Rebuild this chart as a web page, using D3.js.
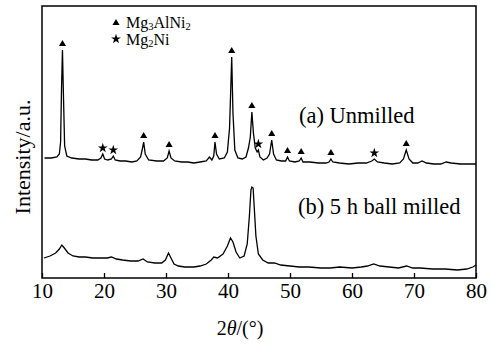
<!DOCTYPE html>
<html>
<head>
<meta charset="utf-8">
<script src="https://cdn.jsdelivr.net/npm/d3@7"></script>
<style>
  body { margin: 0; background: #fff; }
  svg text { font-family: "Liberation Serif", "Times New Roman", serif; fill: #000; }
</style>
</head>
<body>
<div id="chart"></div>
<script>
// XRD patterns: [2theta, intensity a.u.]
const unmilled = [
  [10.4, 120], [11.5, 120], [12.4, 121], [12.8, 124], [13.0, 136], [13.15, 190], [13.3, 228], [13.45, 185],
  [13.65, 132], [14.0, 122], [14.8, 120], [16.0, 119], [17.0, 119], [18.0, 118], [19.0, 118],
  [19.5, 120], [19.8, 124], [20.1, 119], [20.6, 118], [21.2, 119], [21.5, 122], [21.8, 118],
  [22.6, 117], [23.5, 117], [24.5, 116], [25.3, 117], [25.9, 121], [26.15, 128], [26.4, 136],
  [26.65, 124], [27.2, 118], [28.5, 117], [29.6, 117], [30.2, 120], [30.5, 127], [30.8, 120],
  [31.4, 117], [32.5, 116], [33.5, 116], [34.5, 115], [35.5, 116], [36.5, 117], [37.0, 121],
  [37.4, 118], [37.7, 122], [37.9, 136], [38.15, 124], [38.6, 119], [39.4, 120], [39.9, 126],
  [40.25, 150], [40.45, 190], [40.6, 221], [40.8, 165], [41.1, 128], [41.6, 120], [42.3, 119],
  [42.9, 121], [43.3, 130], [43.6, 141], [43.85, 166], [44.1, 145], [44.4, 130], [44.7, 126],
  [44.9, 128], [45.15, 121], [45.7, 118], [46.3, 120], [46.7, 124], [47.05, 138], [47.35, 124],
  [47.8, 118], [48.6, 117], [49.3, 117], [49.6, 121], [49.9, 117], [50.8, 116], [51.5, 117],
  [51.8, 120], [52.1, 116], [53.2, 116], [54.6, 115], [55.8, 115], [56.3, 116], [56.6, 119],
  [56.9, 116], [58.0, 115], [59.5, 114], [61.0, 115], [62.3, 115], [63.2, 117], [63.6, 119],
  [64.1, 116], [65.2, 115], [66.5, 114], [67.7, 115], [68.3, 119], [68.75, 128], [69.2, 119],
  [69.8, 115], [70.6, 115], [71.3, 117], [72.0, 115], [73.2, 114], [74.3, 114], [75.2, 116],
  [76.0, 115], [77.5, 114], [79.0, 114], [80.0, 114]
]

const milled = [
  [10.3, 20], [11.3, 22], [12.2, 25], [12.8, 29], [13.2, 33], [13.6, 30], [14.2, 25], [15.0, 22],
  [16.0, 21], [17.0, 21], [18.2, 20], [19.5, 20], [20.5, 20], [21.2, 21], [22.0, 19], [23.0, 18],
  [24.3, 17], [25.5, 17], [26.3, 19], [27.0, 16], [28.2, 15], [29.3, 15], [29.9, 18], [30.4, 25],
  [30.8, 20], [31.3, 14], [32.0, 12], [33.0, 11], [34.5, 11], [35.5, 12], [36.5, 14], [37.3, 18],
  [37.7, 21], [38.3, 20], [39.2, 24], [39.9, 32], [40.4, 40], [40.8, 36], [41.3, 26], [41.9, 20],
  [42.6, 22], [43.1, 34], [43.45, 62], [43.7, 88], [43.85, 91], [44.05, 90], [44.2, 74],
  [44.5, 42], [44.9, 24], [45.6, 18], [46.5, 15], [47.5, 15], [48.5, 13], [50.0, 12], [51.5, 11],
  [53.0, 11], [55.0, 10], [56.5, 10], [58.0, 11], [60.0, 10], [61.5, 11], [62.5, 12], [63.5, 14],
  [64.5, 12], [66.0, 11], [67.5, 10], [68.8, 12], [69.8, 10], [71.0, 10], [73.0, 9], [75.0, 9],
  [77.0, 8], [78.5, 9], [79.5, 11], [80.0, 13]
]

// phase markers: [2theta, peak top]
const mg3alni2Peaks = [[13.3, 228], [26.4, 136], [30.5, 127], [37.9, 136], [40.6, 221], [43.85, 166],
  [47.05, 138], [49.6, 121], [51.8, 120], [56.6, 119], [68.75, 128]]
const mg2niPeaks = [[19.8, 124], [21.5, 122], [44.9, 128], [63.6, 119]]

const xTicks = [10, 20, 30, 40, 50, 60, 70, 80]

const width = 492,
  height = 345,
  margin = { top: 6, right: 16, bottom: 67, left: 42 }

const svg = d3.select('#chart')
  .append('svg')
  .attr('width', width)
  .attr('height', height)

const x = d3.scaleLinear().domain([10, 80]).range([margin.left, width - margin.right])
const y = d3.scaleLinear().domain([0, 272]).range([height - margin.bottom, margin.top])

const line = d3.line()
  .x(d => x(d[0]))
  .y(d => y(d[1]))

svg.append('path')
  .datum(unmilled)
  .attr('fill', 'none')
  .attr('stroke', '#000')
  .attr('stroke-width', 1.3)
  .attr('d', line)

svg.append('path')
  .datum(milled)
  .attr('fill', 'none')
  .attr('stroke', '#000')
  .attr('stroke-width', 1.3)
  .attr('d', line)

// markers
const tri = d3.symbol().type(d3.symbolTriangle).size(22)
const star = d3.symbol().type(d3.symbolStar).size(30)

svg.selectAll('.tri')
  .data(mg3alni2Peaks)
  .enter()
  .append('path')
  .attr('class', 'tri')
  .attr('d', tri)
  .attr('transform', d => `translate(${x(d[0])},${y(d[1]) - 6})`)

svg.selectAll('.star')
  .data(mg2niPeaks)
  .enter()
  .append('path')
  .attr('class', 'star')
  .attr('d', star)
  .attr('transform', d => `translate(${x(d[0])},${y(d[1]) - 6})`)

// frame
svg.append('rect')
  .attr('x', margin.left)
  .attr('y', margin.top)
  .attr('width', width - margin.left - margin.right)
  .attr('height', height - margin.top - margin.bottom)
  .attr('fill', 'none')
  .attr('stroke', '#000')
  .attr('stroke-width', 1.5)

const xAxis = svg.append('g')
  .attr('transform', `translate(0,${height - margin.bottom})`)
  .call(d3.axisBottom(x).tickValues(xTicks).tickSizeInner(-5).tickSizeOuter(0).tickPadding(5))
xAxis.select('.domain').remove()
xAxis.selectAll('line').attr('stroke-width', 1.3)
xAxis.selectAll('text')
  .style('font-family', '"Liberation Serif", serif')
  .style('font-size', '21px')

// axis titles
const xt = svg.append('text')
  .attr('x', 240)
  .attr('y', 335)
  .attr('text-anchor', 'middle')
  .style('font-size', '20px')
xt.append('tspan').text('2')
xt.append('tspan').style('font-style', 'italic').text('θ')
xt.append('tspan').text('/(°)')

svg.append('text')
  .attr('transform', `translate(30,157) rotate(-90)`)
  .attr('text-anchor', 'middle')
  .style('font-size', '22px')
  .text('Intensity/a.u.')

// legend
const legend = [[tri, 'Mg', '3', 'AlNi', '2'], [star, 'Mg', '2', 'Ni', '']]
legend.forEach((l, i) => {
  svg.append('path')
    .attr('d', l[0])
    .attr('transform', `translate(116,${23 + i * 16})`)
  const t = svg.append('text')
    .attr('x', 126)
    .attr('y', 28 + i * 17)
    .style('font-size', '16px')
  t.append('tspan').text(l[1])
  t.append('tspan').attr('dy', 2).style('font-size', '10.5px').text(l[2])
  t.append('tspan').attr('dy', -2).text(l[3])
  if (l[4]) t.append('tspan').attr('dy', 2).style('font-size', '10.5px').text(l[4])
})

// sample labels
svg.append('text')
  .attr('x', 299)
  .attr('y', 123)
  .style('font-size', '22.5px')
  .text('(a) Unmilled')

svg.append('text')
  .attr('x', 298)
  .attr('y', 214)
  .style('font-size', '22.5px')
  .text('(b) 5 h ball milled')
</script>
</body>
</html>
